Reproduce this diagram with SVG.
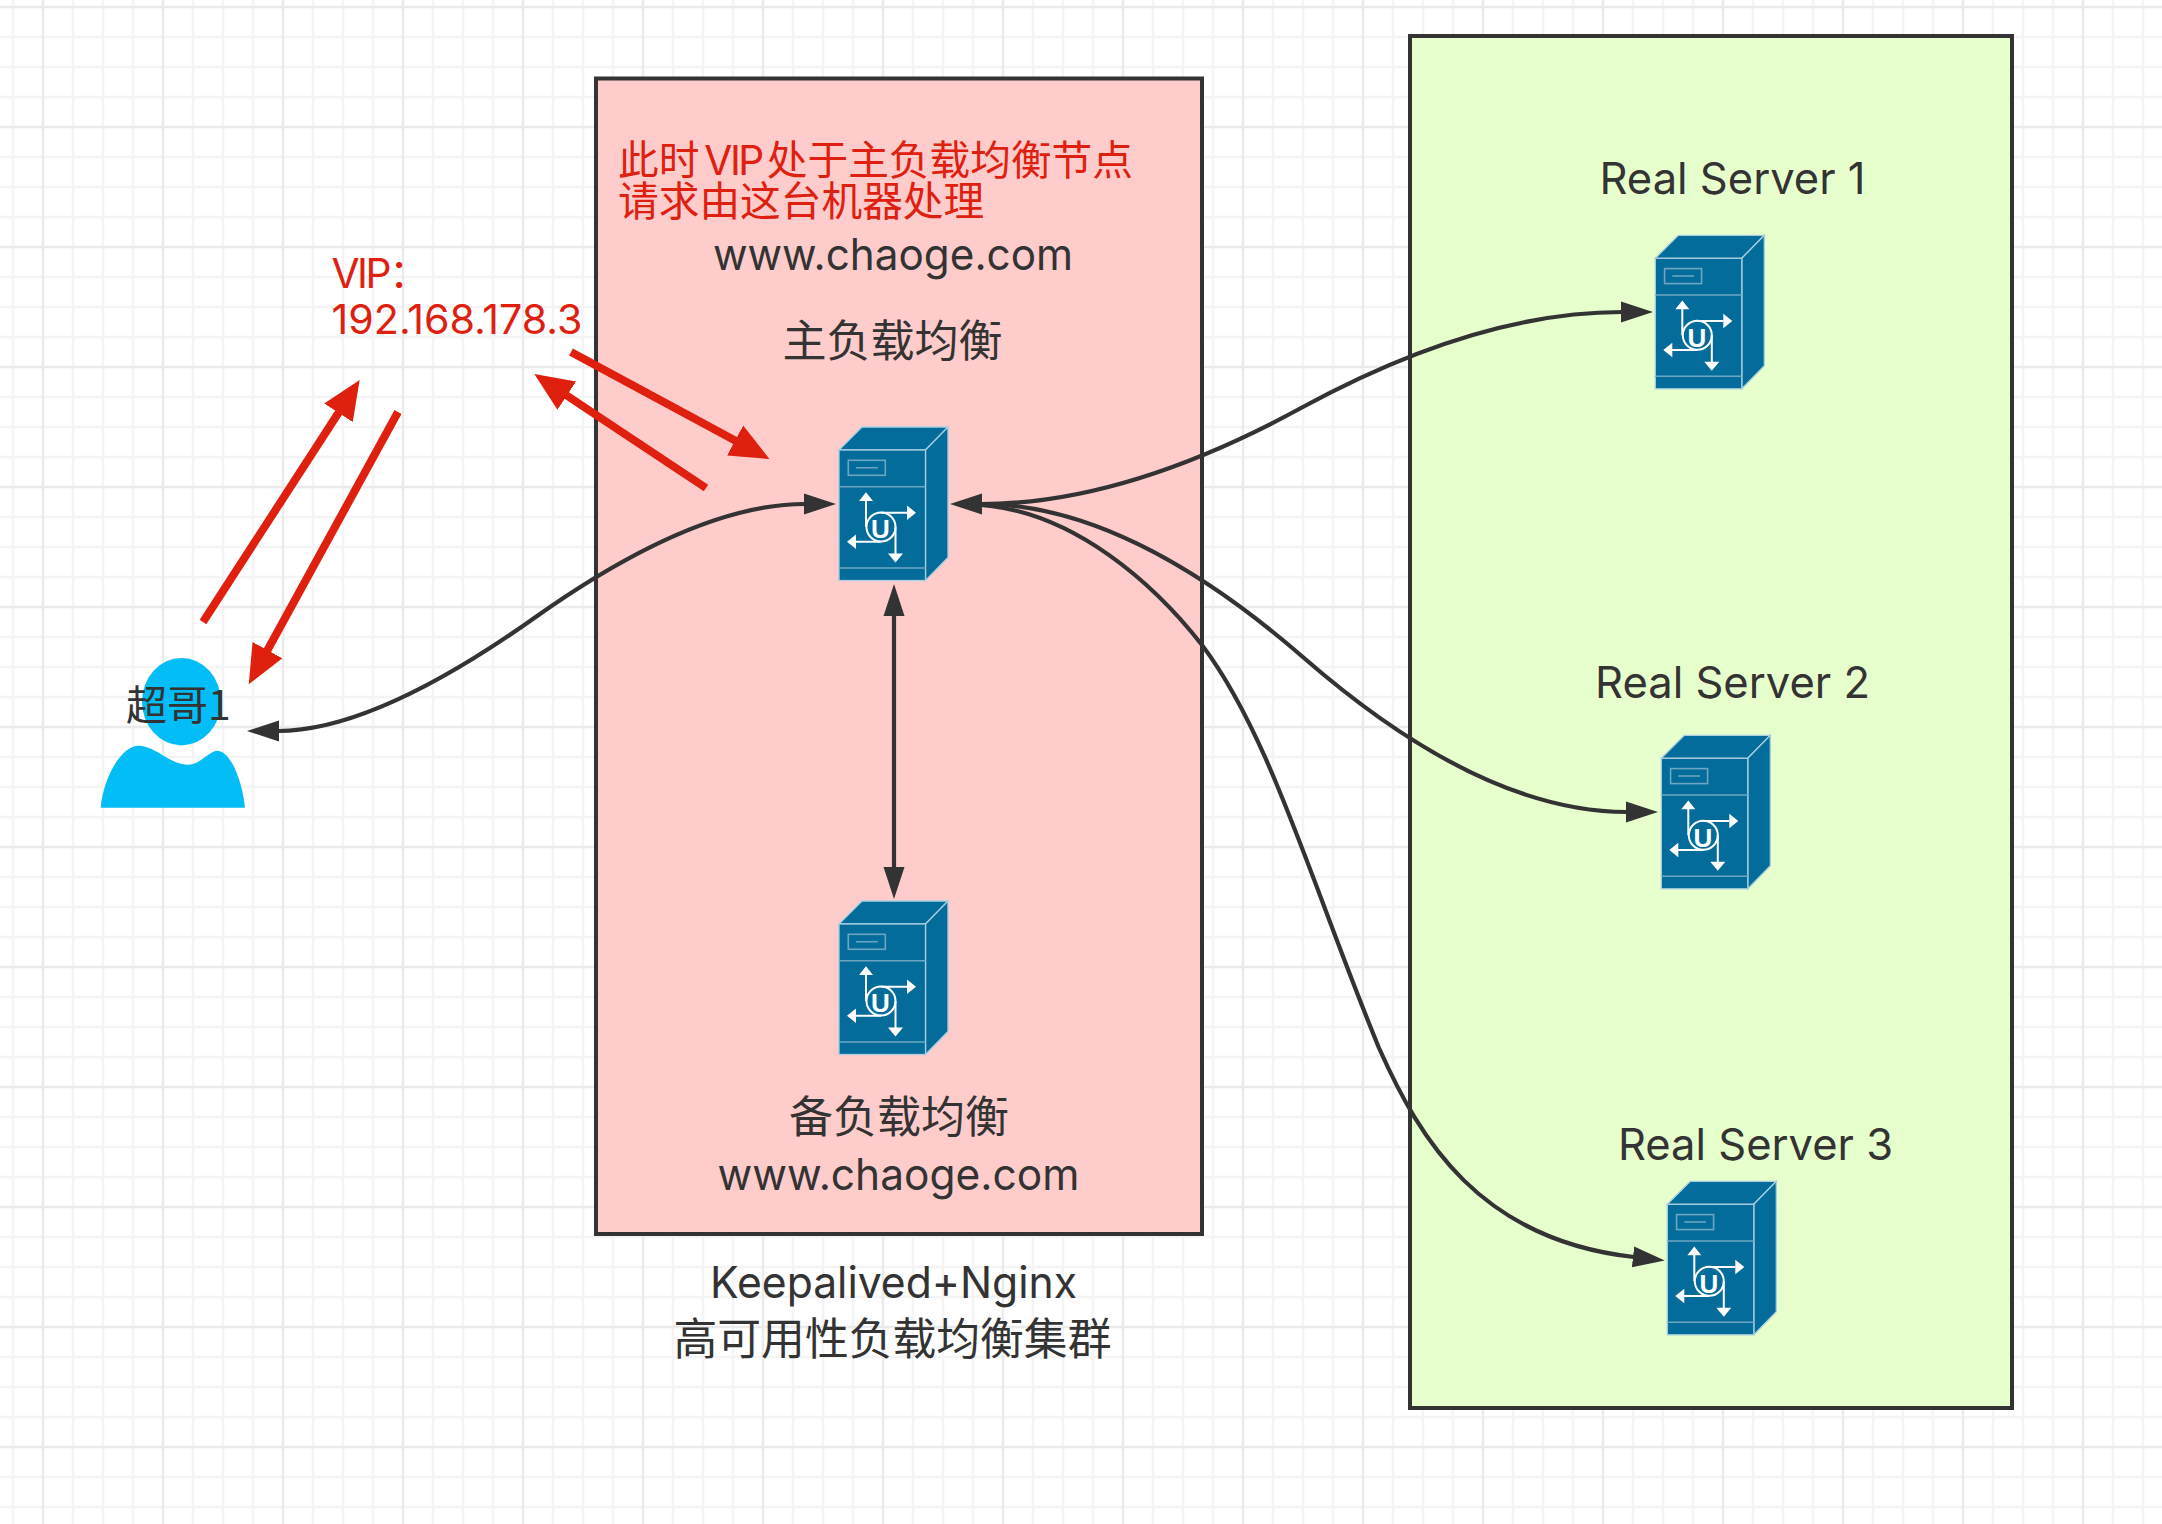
<svg xmlns="http://www.w3.org/2000/svg" width="2162" height="1524" viewBox="0 0 2162 1524">
<style>
text{font-family:"Inter","Noto Sans CJK SC","Liberation Sans",sans-serif;font-size:44px;fill:#333}
.cjk{font-family:"Noto Sans CJK SC","Liberation Sans",sans-serif}
.red{fill:#e0200f;font-size:40.700px}
.tight{letter-spacing:-2.500px}
.box{stroke:#333;stroke-width:4}
.edge{fill:none;stroke:#333;stroke-width:4.200}
.hot{fill:none;stroke:#e0200f;stroke-width:8}
.g1{fill:none;stroke:#f4f4f4;stroke-width:2.500}
.g2{fill:none;stroke:#ebebeb;stroke-width:2.500}
.sf{fill:#036c9b;stroke:#a9cfe0;stroke-width:1.300}
.sl{fill:none;stroke:#6ea6c2;stroke-width:1.600}
.sa{fill:none;stroke:#fff;stroke-width:2}
.sh{fill:#fff}
</style>
<defs>
<pattern id="grid" x="-2" y="-38" width="120" height="120" patternUnits="userSpaceOnUse">
<path class="g1" d="M15,0V120M75,0V120M105,0V120M0,15H120M0,75H120M0,105H120"/>
<path class="g2" d="M45,0V120M0,45H120"/>
</pattern>
<marker id="dk" markerUnits="userSpaceOnUse" markerWidth="34" markerHeight="24" viewBox="0 -12 34 24" refX="1" refY="0" orient="auto-start-reverse"><path d="M0,-10.500L32,0L0,10.500z" fill="#333"/></marker>
<marker id="rd" markerUnits="userSpaceOnUse" markerWidth="44" markerHeight="38" viewBox="0 -19 44 38" refX="1" refY="0" orient="auto"><path d="M0,-17L39,0L0,17z" fill="#e0200f"/></marker>
<g id="srv">
<path class="sf" d="M0,23L23,0H109L86.500,23z"/>
<path class="sf" d="M86.500,23L109,0V130.500L86.500,153.500z"/>
<rect class="sf" x="0" y="23" width="86.500" height="130.500"/>
<path class="sl" d="M0,59.700H86.500M0,141H86.500M17,40.700H38.700"/>
<rect class="sl" x="9.300" y="33.300" width="37" height="15"/>
<circle class="sa" cx="42" cy="100" r="14.500"/>
<path class="sa" d="M27,100V72M42,85.700H68M56.500,100V127M42,114.700H16"/>
<path class="sh" d="M27,65.300L34,74H20zM77,85.700L68,78.500V93zM56.500,135.500L49,126.500H64zM8,114.700L17,107.500V122z"/>
<text x="41.500" y="111.300" text-anchor="middle" style="font-size:26px;font-weight:700;fill:#fff;font-family:'Liberation Sans',sans-serif">U</text>
</g>
</defs>
<rect width="2162" height="1524" fill="#fff"/>
<rect width="2162" height="1524" fill="url(#grid)"/>
<g id="cluster"><rect class="box" x="596" y="78.500" width="606" height="1155.500" fill="#ffcccc"/></g>
<g id="realservers"><rect class="box" x="1410" y="36" width="602" height="1372" fill="#e6ffcc"/></g>
<g id="connectors">
<path class="edge" marker-start="url(#dk)" marker-end="url(#dk)" d="M278,731Q375,731 535,617.500Q695,504 805,504"/>
<path class="edge" marker-start="url(#dk)" marker-end="url(#dk)" d="M981,504Q1125,504 1301,408Q1477,312 1622,312"/>
<path class="edge" marker-end="url(#dk)" d="M981,504Q1127,504 1304,658Q1481,812 1627,812"/>
<path class="edge" marker-end="url(#dk)" d="M981,505C1075,512 1155,585 1202,645C1270,735 1310,880 1379,1048C1420,1140 1480,1240 1634,1257"/>
<path class="edge" marker-start="url(#dk)" marker-end="url(#dk)" d="M894,615V868"/>
<path class="hot" marker-end="url(#rd)" d="M571,352L736,441"/>
<path class="hot" marker-end="url(#rd)" d="M706,488L566,395"/>
<path class="hot" marker-end="url(#rd)" d="M203,622L339,412"/>
<path class="hot" marker-end="url(#rd)" d="M398,412L267,651"/>
</g>
<g id="user">
<ellipse cx="181.500" cy="701.700" rx="39.500" ry="43.700" fill="#02bdf6"/>
<path fill="#02bdf6" d="M100.700,807.700C103,780 120,745.700 139,745.700C155,745.700 170,764.700 188,764.700C200,764.700 210,750.700 216.700,750.700C232,750.700 243,785 245,807.700z"/>
<text class="cjk" x="126" y="720" style="font-size:41px">超哥1</text>
</g>
<g id="server-master"><use href="#srv" x="839" y="427"/></g>
<g id="server-backup"><use href="#srv" x="839" y="901"/></g>
<g id="server-rs1"><use href="#srv" x="1655.300" y="235.300"/></g>
<g id="server-rs2"><use href="#srv" x="1661.300" y="735.300"/></g>
<g id="server-rs3"><use href="#srv" x="1667.300" y="1181.300"/></g>
<g id="labels">
<text class="red" x="618" y="175" style="word-spacing:-6.500px">此时 <tspan class="tight">VIP</tspan> 处于主负载均衡节点</text>
<text class="red cjk" x="618" y="216">请求由这台机器处理</text>
<text class="red" x="331.500" y="288"><tspan class="tight">VIP</tspan>：</text>
<text class="red" x="331.500" y="334" textLength="251" lengthAdjust="spacingAndGlyphs">192.168.178.3</text>
<text x="713" y="270" textLength="360" lengthAdjust="spacingAndGlyphs">www.chaoge.com</text>
<text class="cjk" x="782.500" y="357">主负载均衡</text>
<text class="cjk" x="789" y="1132.500">备负载均衡</text>
<text x="717.500" y="1190" textLength="362" lengthAdjust="spacingAndGlyphs">www.chaoge.com</text>
<text x="710" y="1297.500" textLength="367" lengthAdjust="spacingAndGlyphs">Keepalived+Nginx</text>
<text class="cjk" x="673.500" y="1354.500" style="font-size:43.800px">高可用性负载均衡集群</text>
<text x="1599.500" y="194" textLength="266" lengthAdjust="spacingAndGlyphs">Real Server 1</text>
<text x="1595" y="698" textLength="275" lengthAdjust="spacingAndGlyphs">Real Server 2</text>
<text x="1618" y="1160" textLength="275" lengthAdjust="spacingAndGlyphs">Real Server 3</text>
</g>
</svg>
